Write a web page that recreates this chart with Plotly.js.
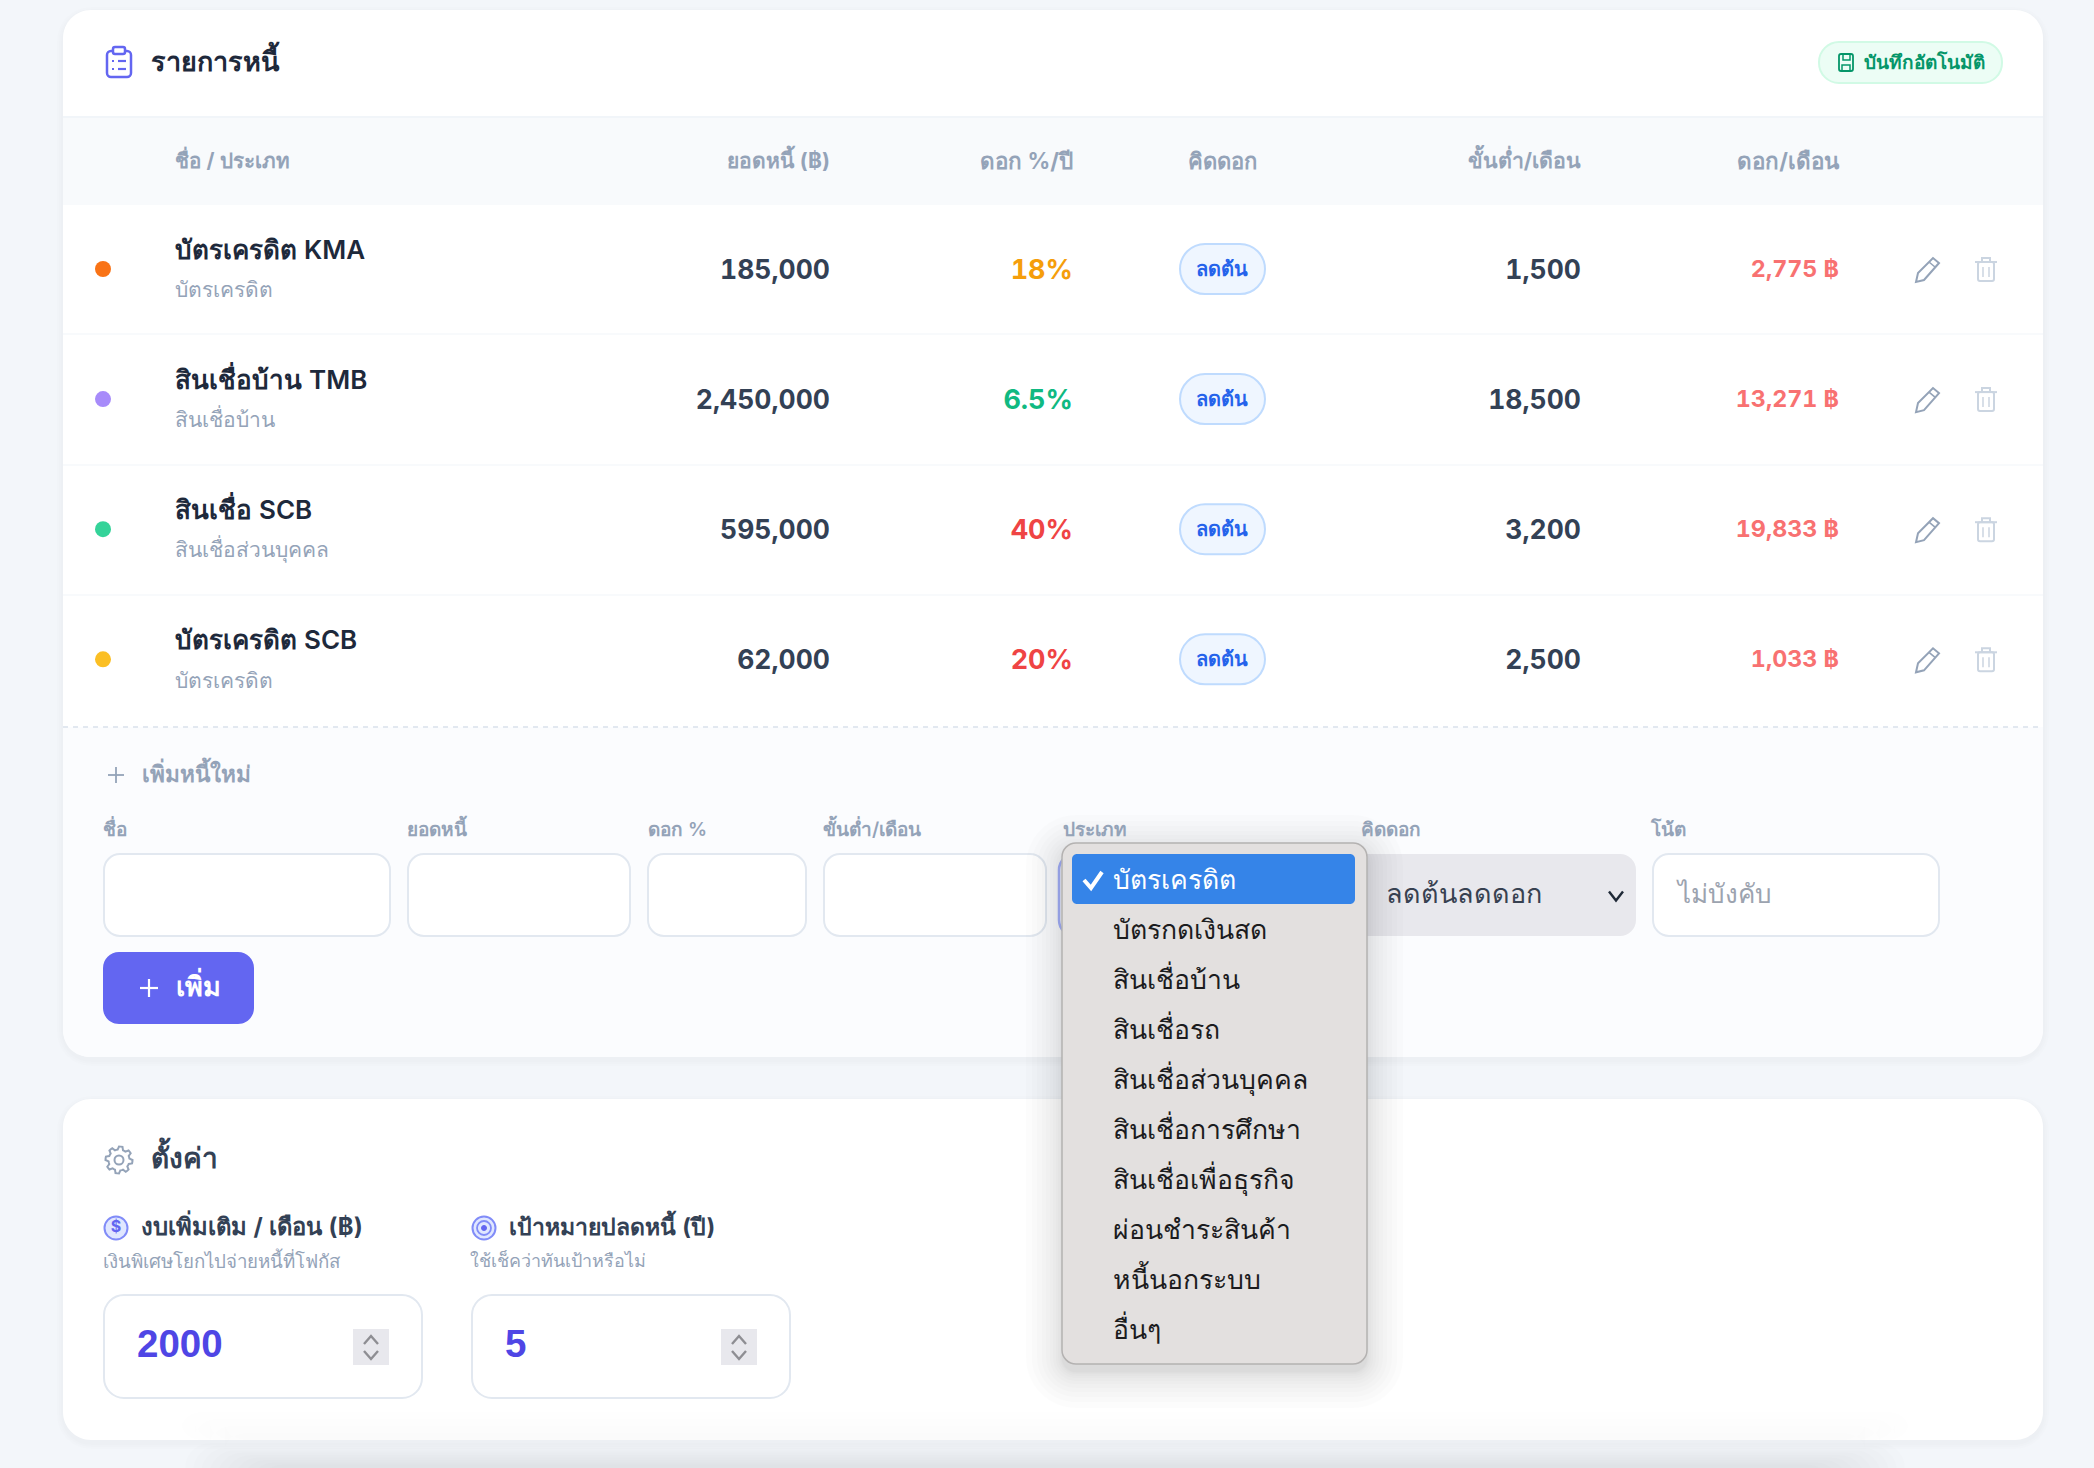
<!DOCTYPE html>
<html><head><meta charset="utf-8">
<script src="https://cdn.plot.ly/plotly-3.0.1.min.js"></script>
<style>html,body{margin:0;padding:0;background:#f3f6fa}#c{width:2094px;height:1468px}
text{font-feature-settings:"tnum" 1 !important;font-variant-numeric:tabular-nums !important}</style>
</head><body><div id="c"></div>
<script>
// ---- content ----
const columnHeaders = ["ชื่อ / ประเภท","ยอดหนี้ (฿)","ดอก %/ปี","คิดดอก","ขั้นต่ำ/เดือน","ดอก/เดือน"];
const debtNames = ["บัตรเครดิต KMA","สินเชื่อบ้าน TMB","สินเชื่อ SCB","บัตรเครดิต SCB"];
const debtTypes = ["บัตรเครดิต","สินเชื่อบ้าน","สินเชื่อส่วนบุคคล","บัตรเครดิต"];
const balances = [185000,2450000,595000,62000];
const rates = ["18%","6.5%","40%","20%"];
const minimums = [1500,18500,3200,2500];
const monthlyInterest = [2775,13271,19833,1033];
const interestMethod = "ลดต้น";
const dotColors = ["#f97316","#a78bfa","#34d399","#fbbf24"];
const rateColors = ["#f59e0b","#10b981","#ef4444","#ef4444"];
const formLabels = ["ชื่อ","ยอดหนี้","ดอก %","ขั้นต่ำ/เดือน","ประเภท","คิดดอก","โน้ต"];
const typeOptions = ["บัตรเครดิต","บัตรกดเงินสด","สินเชื่อบ้าน","สินเชื่อรถ","สินเชื่อส่วนบุคคล","สินเชื่อการศึกษา","สินเชื่อเพื่อธุรกิจ","ผ่อนชำระสินค้า","หนี้นอกระบบ","อื่นๆ"];
const extraBudget = "2000";
const targetYears = "5";

// ---- helpers ----
const FONT = "Inter, 'Noto Sans', sans-serif";
const shapes = [], traces = [];
const fmt = n => n.toLocaleString("en-US");
function rr(x0,y0,x1,y1,r){
  const k=r*0.4477;
  return `M${x0+r},${y0} L${x1-r},${y0} C${x1-k},${y0} ${x1},${y0+k} ${x1},${y0+r} L${x1},${y1-r} C${x1},${y1-k} ${x1-k},${y1} ${x1-r},${y1} L${x0+r},${y1} C${x0+k},${y1} ${x0},${y1-k} ${x0},${y1-r} L${x0},${y0+r} C${x0},${y0+k} ${x0+k},${y0} ${x0+r},${y0} Z`;
}
function box(x0,y0,x1,y1,r,fill,line,w){
  shapes.push({type:"path",path:rr(x0,y0,x1,y1,r),fillcolor:fill||"rgba(0,0,0,0)",line:{color:line||"rgba(0,0,0,0)",width:line?(w||2):0},layer:"below"});
}
function poly(pts,color,w,closed,fill){
  const p = "M"+pts.map(a=>a[0]+","+a[1]).join(" L")+(closed?" Z":"");
  shapes.push({type:"path",path:p,fillcolor:fill||"rgba(0,0,0,0)",line:{color,width:w},layer:"below"});
}
function circ(cx,cy,r,fill,line,w){
  shapes.push({type:"circle",x0:cx-r,x1:cx+r,y0:cy-r,y1:cy+r,fillcolor:fill||"rgba(0,0,0,0)",line:{color:line||"rgba(0,0,0,0)",width:line?(w||2):0},layer:"below"});
}
function shadow(x0,y0,x1,y1,r,spread,n,alpha,dy){
  for(let i=n;i>=1;i--){const s=spread*i/n;
    box(x0-s,y0-s+dy,x1+s,y1+s+dy,r+s,`rgba(0,0,0,${alpha})`);}
}
function txt(x,y,text,size,color,weight,align){
  const xs=[].concat(x), ys=[].concat(y), ts=[].concat(text);
  traces.push({type:"scatter",mode:"text",x:xs,y:ys,text:ts,cliponaxis:false,hoverinfo:"skip",showlegend:false,
    textposition:align==="r"?"middle left":align==="c"?"middle center":"middle right",
    textfont:{family:FONT,size,color,weight:weight||400}});
}
function chevron(cx,cy,w,h,color,lw,up){
  const s=up?-1:1;
  poly([[cx-w,cy-s*h],[cx,cy+s*h],[cx+w,cy-s*h]],color,lw);
}
function plus(cx,cy,r,color,w){poly([[cx-r,cy],[cx+r,cy]],color,w);poly([[cx,cy-r],[cx,cy+r]],color,w);}

// ---- cards ----
shadow(63,10,2043,1057,28,6,3,0.008,3);
box(63,10,2043,1057,28,"#ffffff");
shapes.push({type:"path",path:`M63,727 L2043,727 L2043,1029 C2043,1046 2032,1057 2015,1057 L91,1057 C74,1057 63,1046 63,1029 Z`,fillcolor:"#fbfcfe",line:{width:0},layer:"below"});
shapes.push({type:"rect",x0:63,x1:2043,y0:117,y1:205,fillcolor:"#f8fafc",line:{width:0},layer:"below"});
shapes.push({type:"line",x0:63,x1:2043,y0:117,y1:117,line:{color:"#f1f5f9",width:2},layer:"below"});
[334,465,595].forEach(y=>shapes.push({type:"line",x0:63,x1:2043,y0:y,y1:y,line:{color:"#f8fafc",width:2},layer:"below"}));
shapes.push({type:"line",x0:63,x1:2043,y0:727,y1:727,line:{color:"#e2e8f0",width:2,dash:"5px,5px"},layer:"below"});

shadow(63,1099,2043,1440,28,6,3,0.008,3);
box(63,1099,2043,1440,28,"#ffffff");
// ambient shadow rising from below the window
for(let i=0;i<4;i++){box(180+i*15,1412+i*7,1910-i*15,1440,20,"rgba(0,0,0,0.004)");}
for(let i=0;i<10;i++){box(185+i*8,1443+i*2.4,1905-i*8,1520,25,"rgba(0,0,0,0.008)");}

// ---- heading ----
box(107,51,131,77,4,null,"#6366f1",2.5);
box(113,47,125,54,2,"#ffffff","#6366f1",2.5);
poly([[118,61],[126,61]],"#6366f1",2.2);poly([[118,69],[126,69]],"#6366f1",2.2);
poly([[112,61],[114,61]],"#6366f1",2.2);poly([[112,69],[114,69]],"#6366f1",2.2);
txt(151,64,"รายการหนี้",27,"#1e293b",700);
box(1819,42,2002,83,20,"#ecfdf5","#d1fae5",2);
box(1839,54,1853,71,2,null,"#059669",1.8);
poly([[1843,54],[1843,60],[1850,60],[1850,54]],"#059669",1.5);
poly([[1842,71],[1842,65],[1850,65],[1850,71]],"#059669",1.5);
txt(1864,64,"บันทึกอัตโนมัติ",19,"#059669",700);

// ---- table ----
const HC=163, hcol="#94a3b8";
txt(175,HC,columnHeaders[0],20.6,hcol,700);
txt(830,HC,columnHeaders[1],21,hcol,700,"r");
txt(1073,HC,columnHeaders[2],22.4,hcol,700,"r");
txt(1222,HC,columnHeaders[3],22,hcol,700,"c");
txt(1581,HC,columnHeaders[4],21.3,hcol,700,"r");
txt(1839,HC,columnHeaders[5],22.4,hcol,700,"r");

const rowY = debtNames.map((_,i)=>269+i*130.1);
traces.push({type:"scatter",mode:"markers",x:rowY.map(()=>103),y:rowY,hoverinfo:"skip",showlegend:false,
  marker:{size:16,color:dotColors,line:{width:0}}});
txt(rowY.map(()=>175),rowY.map(y=>y-17),debtNames,26,"#1e293b",600);
txt(rowY.map(()=>175),rowY.map(y=>y+23),debtTypes,21,"#94a3b8",400);
txt(rowY.map(()=>830),rowY.map(y=>y+3),balances.map(fmt),26.5,"#334155",700,"r");
rates.forEach((r,i)=>txt(1073,rowY[i]+3,r,27,rateColors[i],700,"r"));
rowY.forEach(y=>{
  box(1180,y-25,1265,y+25,25,"#eff6ff","#bfdbfe",2);
  const px=1928, py=y+1;
  poly([[px-12,py+12],[px-10,py+3],[px+5,py-12],[px+11,py-7],[px-4,py+10]],"#94a3b8",2,true);
  poly([[px+1,py-8],[px+7,py-3]],"#94a3b8",1.6);
  const tx=1986;
  box(tx-8,y-7,tx+8,y+12,2,null,"#cbd5e1",2);
  poly([[tx-11,y-7],[tx+11,y-7]],"#cbd5e1",2);
  poly([[tx-4,y-7],[tx-4,y-11],[tx+4,y-11],[tx+4,y-7]],"#cbd5e1",2);
  poly([[tx-3,y-2],[tx-3,y+8]],"#cbd5e1",1.5);poly([[tx+3,y-2],[tx+3,y+8]],"#cbd5e1",1.5);
});
txt(rowY.map(()=>1222),rowY.map(y=>y+1.5),rowY.map(()=>interestMethod),20,"#2563eb",700,"c");
txt(rowY.map(()=>1581),rowY.map(y=>y+3),minimums.map(fmt),26.5,"#334155",700,"r");
txt(rowY.map(()=>1839),rowY.map(y=>y+2),monthlyInterest.map(v=>fmt(v)+" ฿"),23.3,"#f87171",700,"r");

// ---- add form ----
plus(116,775,8,"#94a3b8",1.8);
txt(142,776,"เพิ่มหนี้ใหม่",22.6,"#94a3b8",700);
const labelX=[103,407,648,823,1063,1361,1651];
formLabels.forEach((t,i)=>txt(labelX[i],831,t,19,"#94a3b8",600));
[[104,390],[408,630],[648,806],[824,1046]].forEach(a=>box(a[0],854,a[1],936,16,"#ffffff","#e2e8f0",2));
box(1059,854,1100,936,16,"#ffffff","#a5b4fc",2.5);
box(1300,854,1636,936,16,"#e8e8ed");
txt(1386,896,"ลดต้นลดดอก",27,"#374151",400);
chevron(1616,896,7,4.5,"#1f2937",2.4);
box(1653,854,1939,936,16,"#ffffff","#e2e8f0",2);
txt(1678,896,"ไม่บังคับ",26,"#9ca3af",400);
box(103,952,254,1024,16,"#6366f1");
plus(149,988,9,"#ffffff",2.2);
txt(176,989,"เพิ่ม",27,"#ffffff",700);

// ---- settings ----
const gear=[];for(let i=0;i<48;i++){const a=i/48*2*Math.PI;const t=(i%6<3)?13.5:10.5;gear.push([119+t*Math.cos(a),1160+t*Math.sin(a)]);}
poly(gear,"#94a3b8",2,true);circ(119,1160,4.5,null,"#94a3b8",2);
txt(151,1161,"ตั้งค่า",28,"#334155",700);
circ(116,1228,11.5,"#e0e7ff","#818cf8",2);
txt(116,1228,"$",16,"#6366f1",700,"c");
txt(141,1229,"งบเพิ่มเติม / เดือน (฿)",23.8,"#334155",700);
circ(484,1228,11.5,"#e0e7ff","#818cf8",2);circ(484,1228,7,null,"#818cf8",1.8);circ(484,1228,2.5,"#6366f1","#6366f1",1);
txt(509,1229,"เป้าหมายปลดหนี้ (ปี)",23,"#334155",700);
txt(103,1263,"เงินพิเศษโยกไปจ่ายหนี้ที่โฟกัส",18.7,"#94a3b8",400);
txt(470,1263,"ใช้เช็คว่าทันเป้าหรือไม่",17.9,"#94a3b8",400);
[[104,422,353],[472,790,721]].forEach(a=>{
  box(a[0],1295,a[1],1398,20,"#ffffff","#e2e8f0",2);
  box(a[2],1329,a[2]+36,1365,0,"#e8e8ed");
  chevron(a[2]+18,1340,7,4,"#8e8e93",2.4,true);
  chevron(a[2]+18,1355,7,4,"#8e8e93",2.4);
});
traces.push({type:"scatter",mode:"text",x:[137,505],y:[1347,1347],text:[extraBudget,targetYears],textposition:"middle right",cliponaxis:false,hoverinfo:"skip",showlegend:false,
  textfont:{family:"'Liberation Sans',Arial,sans-serif",size:38.5,color:"#4f46e5",weight:700}});

// ---- drop-down ----
for(let i=12;i>=1;i--){const s=i*i/4;box(1062-s,843-s+8,1367+s,1364+s+8,14+s,"rgba(0,0,0,0.012)");}
box(1062,843,1367,1364,14,"#e3e0df","#b4b2b1",1.5);
box(1072,854,1355,904,5,"#3584e8");
poly([[1084,880],[1091,888],[1102,872]],"#ffffff",4);
const optY=typeOptions.map((_,i)=>882+i*50.05);
txt(1113,optY[0],typeOptions[0],26.6,"#ffffff",500);
txt(optY.slice(1).map(()=>1113),optY.slice(1),typeOptions.slice(1),26.6,"#1c1c1e",500);

Plotly.newPlot("c",traces,{
  width:2094,height:1468,margin:{l:0,r:0,t:0,b:0,pad:0},
  paper_bgcolor:"#f3f6fa",plot_bgcolor:"rgba(0,0,0,0)",showlegend:false,
  xaxis:{range:[0,2094],visible:false,fixedrange:true},
  yaxis:{range:[1468,0],visible:false,fixedrange:true},
  shapes
},{staticPlot:true,displayModeBar:false});
</script></body></html>
